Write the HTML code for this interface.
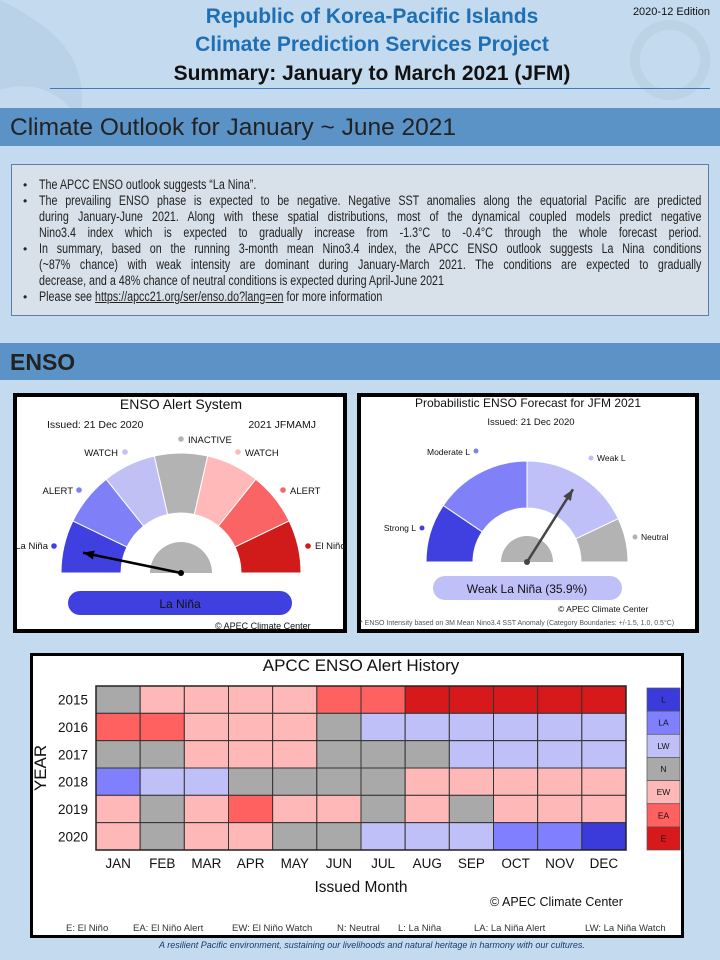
<!DOCTYPE html>
<html><head><meta charset="utf-8"><style>
*{margin:0;padding:0;box-sizing:border-box}
body{width:720px;height:960px;overflow:hidden;background:#c4daee;font-family:"Liberation Sans",sans-serif;position:relative}
.abs{position:absolute}
.t1{left:0;width:744px;text-align:center;font-weight:bold}
.band{left:0;width:720px;background:#5b93c7;color:#222}
.tb .ln{position:absolute;left:27px;width:828px;transform:scaleX(0.8);transform-origin:0 0;font-size:13.4px;color:#222;line-height:16px;white-space:nowrap}
.tb .j{text-align:justify;text-align-last:justify;white-space:normal;height:16px;overflow:hidden}
.tb .b{position:absolute;left:11px;font-size:12px;color:#222;line-height:16px}
.panel{background:#fff;border:4px solid #000}
</style></head><body>
<svg class="abs" style="left:0;top:0" width="720" height="960">
<path d="M0 0 C60 30 90 60 80 120 C60 90 30 80 0 90Z" fill="#b4cde4" opacity="0.6"/>
<circle cx="670" cy="60" r="35" fill="none" stroke="#b8cde0" stroke-width="10" opacity="0.6"/>
</svg>
<div class="abs t1" style="top:5px;font-size:21px;color:#1f6fb5">Republic of Korea-Pacific Islands</div>
<div class="abs t1" style="top:33px;font-size:21px;color:#1f6fb5">Climate Prediction Services Project</div>
<div class="abs t1" style="top:62px;font-size:21px;color:#111">Summary: January to March 2021 (JFM)</div>
<div class="abs" style="right:10px;top:6px;font-size:11px;color:#111">2020-12 Edition</div>
<div class="abs" style="left:50px;top:88px;width:660px;height:1px;background:#3d7bbf"></div>
<div class="abs band" style="top:108px;height:38px;font-size:24.5px;line-height:40px;padding-left:10px">Climate Outlook for January ~ June 2021</div>
<div class="abs tb" style="left:11px;top:164px;width:698px;height:152px;background:#d8e0e9;border:1px solid #5a7ea8">
<span class="b" style="top:12px">•</span><span class="b" style="top:28px">•</span><span class="b" style="top:76px">•</span><span class="b" style="top:124px">•</span>
<div class="ln" style="top:12px">The APCC ENSO outlook suggests “La Nina”.</div>
<div class="ln j" style="top:28px">The prevailing ENSO phase is expected to be negative. Negative SST anomalies along the equatorial Pacific are predicted</div>
<div class="ln j" style="top:44px">during January-June 2021. Along with these spatial distributions, most of the dynamical coupled models predict negative</div>
<div class="ln j" style="top:60px">Nino3.4 index which is expected to gradually increase from -1.3°C to -0.4°C through the whole forecast period.</div>
<div class="ln j" style="top:76px">In summary, based on the running 3-month mean Nino3.4 index, the APCC ENSO outlook suggests La Nina conditions</div>
<div class="ln j" style="top:92px">(~87% chance) with weak intensity are dominant during January-March 2021. The conditions are expected to gradually</div>
<div class="ln" style="top:108px">decrease, and a 48% chance of neutral conditions is expected during April-June 2021</div>
<div class="ln" style="top:124px">Please see <u>https://apcc21.org/ser/enso.do?lang=en</u> for more information</div>
</div>
<div class="abs band" style="top:343px;height:37px;font-size:23px;font-weight:bold;line-height:38px;padding-left:10px">ENSO</div>

<div class="abs panel" style="left:13px;top:393px;width:334px;height:240px"></div>
<div class="abs panel" style="left:357px;top:393px;width:342px;height:240px"></div>
<div class="abs panel" style="left:30px;top:653px;width:654px;height:285px;border-width:3px"></div>

<svg id="g" class="abs" style="left:0;top:0" width="720" height="960" font-family="Liberation Sans, sans-serif"></svg>
<div class="abs" style="left:0;width:744px;top:940px;text-align:center;font-size:9px;font-style:italic;color:#1a3b6e">A resilient Pacific environment, sustaining our livelihoods and natural heritage in harmony with our cultures.</div>

<script>
// Alert gauge
const alertCats=["L","LA","LW","N","EW","EA","E"];
const alertColors=["#4040e0","#7f7ff7","#c0c0f5","#b3b3b3","#ffb9b9","#fb6464","#d11b1b"];
const alertValue=-0.87; // needle position in [-1,1], La Niña
// Probabilistic gauge
const probCats=["Strong L","Moderate L","Weak L","Neutral"];
const probValues=[18.9,31.1,35.9,14.1];
const probColors=["#4040e0","#8080f8","#c0c0f8","#b3b3b3"];
// Heatmap
const months=["JAN","FEB","MAR","APR","MAY","JUN","JUL","AUG","SEP","OCT","NOV","DEC"];
const years=["2015","2016","2017","2018","2019","2020"];
const states=[
"N EW EW EW EW EA EA E E E E E",
"EA EA EW EW EW N LW LW LW LW LW LW",
"N N EW EW EW N N N LW LW LW LW",
"LA LW LW N N N N EW EW EW EW EW",
"EW N EW EA EW EW N EW N EW EW EW",
"EW N EW EW N N LW LW LW LA LA L"];
const stateColors={L:"#3b3bdc",LA:"#8080ff",LW:"#c0c0f8",N:"#a9a9a9",EW:"#ffb8b8",EA:"#ff6060",E:"#d7191c"};
const legendKeys=["L","LA","LW","N","EW","EA","E"];

const S=document.getElementById('g');const NS="http://www.w3.org/2000/svg";
function mk(t,a,txt){const e=document.createElementNS(NS,t);for(const k in a)e.setAttribute(k,a[k]);if(txt!==undefined)e.textContent=txt;S.appendChild(e);return e;}
function txt(x,y,s,size,anchor,fill,name){const e=mk('text',{x,y,'font-size':size,'text-anchor':anchor||'start',fill:fill||'#111'},s);

return e;}
function arc(cx,cy,r0,r1,a0,a1){
 const p=(r,a)=>[cx-r*Math.cos(a*Math.PI/180),cy-r*Math.sin(a*Math.PI/180)];
 const [x1,y1]=p(r1,a0),[x2,y2]=p(r1,a1),[x3,y3]=p(r0,a1),[x4,y4]=p(r0,a0);
 return `M${x1} ${y1}A${r1} ${r1} 0 0 1 ${x2} ${y2}L${x3} ${y3}A${r0} ${r0} 0 0 0 ${x4} ${y4}Z`;}
function arrow(cx,cy,len,ang,col,w,name){const x=cx-len*Math.cos(ang*Math.PI/180),y=cy-len*Math.sin(ang*Math.PI/180);
 const l=mk('line',{x1:cx,y1:cy,x2:x,y2:y,stroke:col,'stroke-width':w});
 
 
 const ux=(x-cx)/len,uy=(y-cy)/len,h=11;
 const hd=mk('polygon',{points:`${x},${y} ${x-h*ux-4.5*uy},${y-h*uy+4.5*ux} ${x-h*ux+4.5*uy},${y-h*uy-4.5*ux}`,fill:col});
 
 
 const c=mk('circle',{cx,cy,r:3,fill:col});
 
 }

// ---- alert gauge
(function(){const cx=181,cy=573,R=120,r=60,n=alertCats.length;
txt(181,409,"ENSO Alert System",14,"middle","#111","alert-title");
txt(47,428,"Issued: 21 Dec 2020",10.5,"start","#111","alert-issued");
txt(316,428,"2021 JFMAMJ",10.5,"end","#111","alert-period");
alertCats.forEach((c,i)=>{const p=mk('path',{d:arc(cx,cy,r,R,i*180/n,(i+1)*180/n),fill:alertColors[i],stroke:'#fff','stroke-width':1});

});
const g=mk('path',{d:arc(cx,cy,0.01,31,0,180),fill:'#b3b3b3'});


const labs=[["La Niña",48,549,54,546,"end"],["ALERT",73,494,79,490,"end"],["WATCH",118,456,125,452,"end"],["INACTIVE",188,443,181,439,"start"],["WATCH",245,456,238,452,"start"],["ALERT",290,494,283,490,"start"],["El Niño",315,549,308,546,"start"]];
labs.forEach((l,i)=>{const d=mk('circle',{cx:l[3],cy:l[4],r:2.8,fill:alertColors[i]});


txt(l[1],l[2],l[0],9.5,l[5],"#111","alert-legend-label");});
arrow(cx,cy,100,(alertValue+1)/2*180,'#000',2.5,'alert-needle');
const b=mk('rect',{x:68,y:591,width:224,height:24,rx:12,fill:'#4040e0'});


txt(180,608,"La Niña",12,"middle","#111","alert-status-text");
txt(215,629,"© APEC Climate Center",9,"start","#111","alert-credit");})();

// ---- probabilistic gauge
(function(){const cx=527,cy=562,R=101,r=54;
txt(528,407,"Probabilistic ENSO Forecast for JFM 2021",12,"middle","#111","prob-title");
txt(531,425,"Issued: 21 Dec 2020",9.5,"middle","#111","prob-issued");
const tot=probValues.reduce((a,b)=>a+b,0);let a=0,maxI=0;
probValues.forEach((v,i)=>{const a1=a+v/tot*180;
const p=mk('path',{d:arc(cx,cy,r,R,a,a1),fill:probColors[i],stroke:'#fff','stroke-width':1});


if(v>probValues[maxI])maxI=i;a=a1;});
const g=mk('path',{d:arc(cx,cy,0.01,26,0,180),fill:'#b3b3b3'});


let s=0;for(let i=0;i<maxI;i++)s+=probValues[i];
arrow(cx,cy,86,(s+probValues[maxI]/2)/tot*180,'#444',2.5,'prob-needle');
const labs=[["Strong L",416,531,422,528,"end"],["Moderate L",470,455,476,451,"end"],["Weak L",597,461,591,458,"start"],["Neutral",641,540,635,537,"start"]];
labs.forEach((l,i)=>{const d=mk('circle',{cx:l[3],cy:l[4],r:2.5,fill:probColors[i]});


txt(l[1],l[2],l[0],8.5,l[5],"#111","prob-legend-label");});
const b=mk('rect',{x:433,y:576,width:189,height:24,rx:12,fill:'#c0c0f8'});


txt(527,593,"Weak La Niña ("+probValues[maxI].toFixed(1)+"%)",12,"middle","#111","prob-status-text");
txt(558,612,"© APEC Climate Center",8.5,"start","#111","prob-credit");
txt(360,625,"* ENSO Intensity based on 3M Mean Nino3.4 SST Anomaly (Category Boundaries: +/-1.5, 1.0, 0.5°C)",7,"start","#555","prob-footnote");})();

// ---- heatmap
(function(){const x0=96,x1=626,y0=686,y1=850;const cw=(x1-x0)/months.length,ch=(y1-y0)/years.length;
const X=i=>x0+i*cw,Y=j=>y0+j*ch;
txt(361,671,"APCC ENSO Alert History",17,"middle","#111","heatmap-title");
years.forEach((yr,j)=>{const row=states[j].split(" ");
row.forEach((st,i)=>{const r=mk('rect',{x:X(i),y:Y(j),width:cw,height:ch,fill:stateColors[st],stroke:'#333','stroke-width':1});

});
txt(88,Y(j)+ch/2+5,yr,13.5,"end","#111","year-tick");});
const fr=mk('rect',{x:x0,y:y0,width:x1-x0,height:y1-y0,fill:'none',stroke:'#222','stroke-width':1.5});


months.forEach((m,i)=>txt(X(i)+cw/2,868,m,13.5,"middle","#111","month-tick"));
txt(361,892,"Issued Month",15.5,"middle","#111","x-axis-title");
const yt=txt(0,0,"YEAR",17,"middle","#111","y-axis-title");yt.setAttribute('transform','translate(46,768) rotate(-90)');
txt(490,906,"© APEC Climate Center",12.5,"start","#111","heatmap-credit");
const lh=(y1-y0-2)/legendKeys.length;
legendKeys.forEach((k,i)=>{const r=mk('rect',{x:647,y:y0+2+i*lh,width:33,height:lh,fill:stateColors[k],stroke:'#555','stroke-width':0.7});


txt(663.5,y0+2+i*lh+lh/2+3,k,8.5,"middle","#111","legend-key-label");});
const foot=["E: El Niño","EA: El Niño Alert","EW: El Niño Watch","N: Neutral","L: La Niña","LA: La Niña Alert","LW: La Niña Watch"];
const fx=[66,133,232,337,398,474,585];
foot.forEach((f,i)=>txt(fx[i],931,f,9.5,"start","#333","state-key-footnote"));})();
</script>
</body></html>
